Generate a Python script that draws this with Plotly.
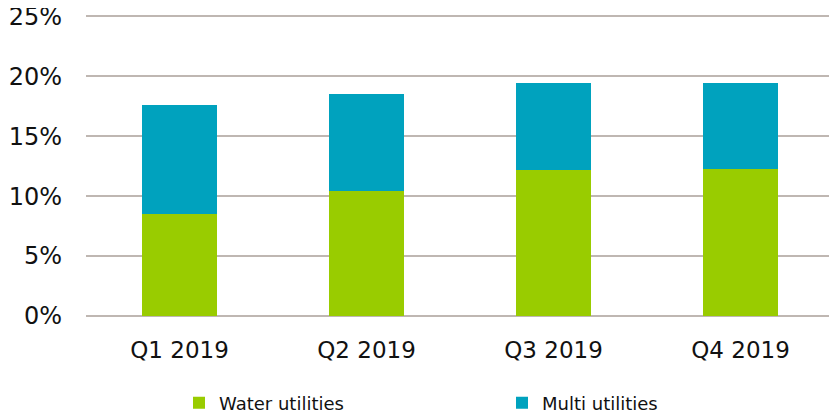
import plotly.graph_objects as go

categories = ["Q1 2019", "Q2 2019", "Q3 2019", "Q4 2019"]
water_utilities = [8.5, 10.4, 12.15, 12.3]
multi_utilities = [9.15, 8.1, 7.3, 7.15]
y_ticks = [0, 5, 10, 15, 20, 25]
y_tick_labels = ["0%", "5%", "10%", "15%", "20%", "25%"]

GREEN = "#99CC00"
BLUE = "#00A2BE"
GRID = "#BFB7B2"
FONT = "DejaVu Sans, Verdana, sans-serif"

# page body has an 8px margin, so the figure is offset by 8px
W, H = 829, 405
L, T, R, B = 78, 7, 3, 97
plot_w = W - L - R
plot_h = H - T - B

fig = go.Figure()
fig.add_trace(go.Bar(x=categories, y=water_utilities, name="Water utilities",
                     marker=dict(color=GREEN, line=dict(width=0)), legend="legend",
                     showlegend=True))
fig.add_trace(go.Bar(x=categories, y=multi_utilities, name="Multi utilities",
                     marker=dict(color=BLUE, line=dict(width=0)), legend="legend2",
                     showlegend=True))

legend_common = dict(orientation="h", yanchor="middle", xanchor="left",
                     font=dict(family=FONT, size=18, color="#111111"),
                     bgcolor="rgba(0,0,0,0)", itemwidth=30)
leg_y = (plot_h - (395 - T)) / plot_h

fig.update_layout(
    width=W, height=H,
    margin=dict(l=L, r=R, t=T, b=B, autoexpand=False),
    showlegend=True,
    barmode="stack", bargap=0.6,
    plot_bgcolor="white", paper_bgcolor="white",
    font=dict(family=FONT, size=22, color="#111111"),
    legend=dict(x=(171 - L) / plot_w, y=leg_y, **legend_common),
    legend2=dict(x=(494 - L) / plot_w, y=leg_y, **legend_common),
    xaxis=dict(showgrid=False, showline=False, ticks="", ticklabelstandoff=18,
               tickfont=dict(size=23), automargin=False),
    yaxis=dict(range=[0, 25.12], tickmode="array", tickvals=y_ticks, ticktext=y_tick_labels,
               showgrid=True, gridcolor=GRID, gridwidth=2,
               zeroline=True, zerolinecolor=GRID, zerolinewidth=2,
               showline=False, ticks="", ticklabelstandoff=23,
               ticklabeloverflow="allow",
               tickfont=dict(size=24), automargin=False),
)

fig.write_html("out.html")
